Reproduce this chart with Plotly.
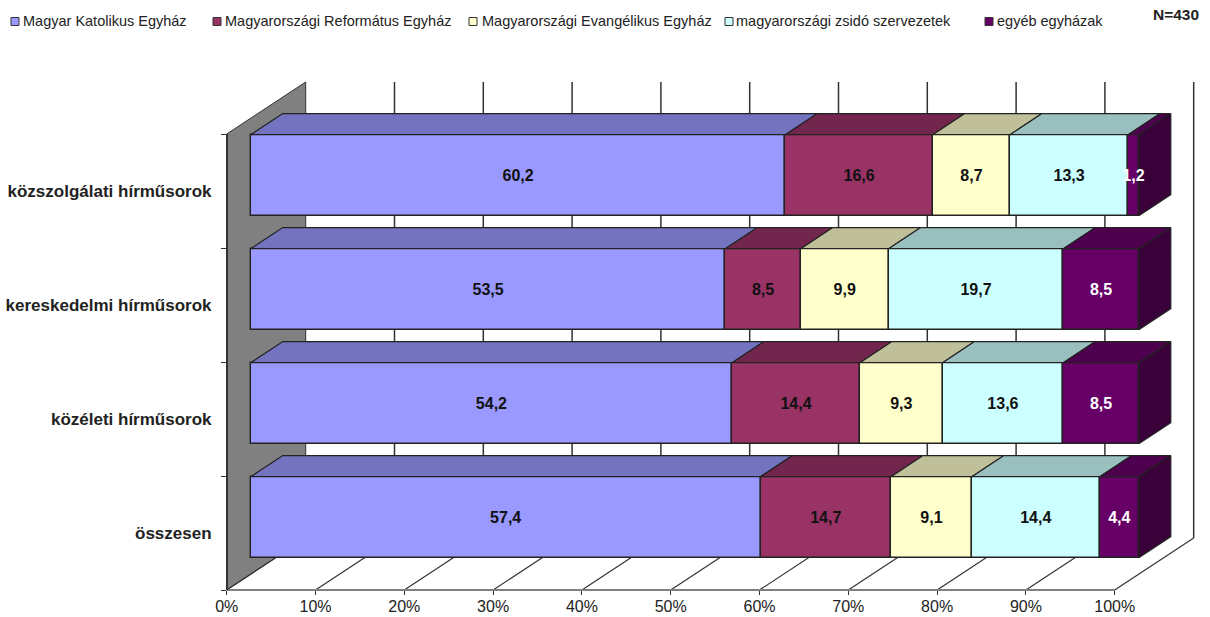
import plotly.graph_objects as go

# ---- data ----
categories = ["összesen", "közéleti hírműsorok", "kereskedelmi hírműsorok", "közszolgálati hírműsorok"]
series_names = ["Magyar Katolikus Egyház", "Magyarországi Református Egyház",
                "Magyarországi Evangélikus Egyház", "magyarországi zsidó szervezetek", "egyéb egyházak"]
katolikus = [57.4, 54.2, 53.5, 60.2]
reformatus = [14.7, 14.4, 8.5, 16.6]
evangelikus = [9.1, 9.3, 9.9, 8.7]
zsido = [14.4, 13.6, 19.7, 13.3]
egyeb = [4.4, 8.5, 8.5, 1.2]
x_ticks = [0, 10, 20, 30, 40, 50, 60, 70, 80, 90, 100]
x_tick_labels = ["0%", "10%", "20%", "30%", "40%", "50%", "60%", "70%", "80%", "90%", "100%"]
note = "N=430"

# ---- style ----
W, H = 1210, 617
front_cols = ["#9999FF", "#993366", "#FFFFCC", "#CCFFFF", "#660066"]
top_cols = ["#7373BF", "#73264D", "#BFBF99", "#99BFBF", "#4D004D"]
side_col = "#3A003A"
edge = "#222222"
label_cols = ["#111111", "#111111", "#111111", "#111111", "#FFFFFF"]
FONT = "Liberation Sans"

# pixel geometry of the floor axis and the pseudo-3D depth
X0, X100 = 226.7, 1114.7
Y0, Y4 = 590.0, 134.0
ux = (X100 - X0) / 100.0
uy = (Y0 - Y4) / 4.0
DX = 79.0 / ux      # full depth of the box in x units
DY = 52.0 / uy      # full depth of the box in y units
D_FRONT, D_BACK = 0.305, 0.71
BAR_H = 81.0 / uy

def px_y_up(p):
    return (H - p) / H

fig = go.Figure()
series = [katolikus, reformatus, evangelikus, zsido, egyeb]

# back wall, side wall, grid lines (below the traces)
shapes = []
shapes.append(dict(type="path", xref="x", yref="y", layer="below",
                   path=f"M 0 0 L 0 4 L {DX} {4 + DY} L {DX} {DY} Z",
                   fillcolor="#808080", line=dict(color="#333333", width=1)))
for t in x_ticks:
    if t > 0:
        shapes.append(dict(type="line", xref="x", yref="y", layer="below",
                           x0=t + DX, x1=t + DX, y0=DY, y1=4 + DY,
                           line=dict(color="#333333", width=1.5)))
    shapes.append(dict(type="line", xref="x", yref="y", layer="below",
                       x0=t, x1=t + DX, y0=0, y1=DY,
                       line=dict(color="#333333", width=1.2)))

# stacked faces
cum = [0.0] * len(categories)
totals = [sum(s[i] for s in series) for i in range(len(categories))]
sx0, sy0 = D_FRONT * DX, D_FRONT * DY
ddx, ddy = (D_BACK - D_FRONT) * DX, (D_BACK - D_FRONT) * DY
centers = [i + 0.5 + sy0 for i in range(len(categories))]
label_y = [c - 1.5 / uy for c in centers]
label_traces = []

for k, s in enumerate(series):
    widths = [v / totals[i] * 100 for i, v in enumerate(s)]
    fig.add_trace(go.Bar(
        orientation="h", y=centers, x=widths, base=[c + sx0 for c in cum], width=BAR_H,
        name=series_names[k], showlegend=False, hoverinfo="skip",
        marker=dict(color=front_cols[k], line=dict(color=edge, width=1.4)),
    ))
    label_traces.append(go.Scatter(
        x=[c + w / 2 + sx0 for c, w in zip(cum, widths)], y=label_y, mode="text",
        text=[f"{v:.1f}".replace(".", ",") for v in s], textposition="middle center",
        textfont=dict(family=FONT, size=16, color=label_cols[k], weight="bold"),
        showlegend=False, hoverinfo="skip"))
    # top faces
    for i in range(len(categories)):
        xa, xb = cum[i] + sx0, cum[i] + widths[i] + sx0
        yt = centers[i] + BAR_H / 2
        fig.add_trace(go.Scatter(
            x=[xa, xb, xb + ddx, xa + ddx, xa], y=[yt, yt, yt + ddy, yt + ddy, yt],
            mode="lines", fill="toself", fillcolor=top_cols[k],
            line=dict(color=edge, width=1.2), showlegend=False, hoverinfo="skip"))
    cum = [c + w for c, w in zip(cum, widths)]

# right side faces
for i in range(len(categories)):
    xr = cum[i] + sx0
    yt, yb = centers[i] + BAR_H / 2, centers[i] - BAR_H / 2
    fig.add_trace(go.Scatter(
        x=[xr, xr + ddx, xr + ddx, xr, xr], y=[yt, yt + ddy, yb + ddy, yb, yt],
        mode="lines", fill="toself", fillcolor=side_col,
        line=dict(color=edge, width=1.2), showlegend=False, hoverinfo="skip"))

for tr in label_traces:
    fig.add_trace(tr)

# invisible trace that brings the visible axes to life
fig.add_trace(go.Scatter(x=[0, 100], y=[0, 4], xaxis="x2", yaxis="y2", mode="lines",
                         line=dict(color="rgba(0,0,0,0)"), showlegend=False, hoverinfo="skip"))

# legend keys and text
legend_key_x = [11, 213, 469, 725, 985]
legend_text_x = [22, 224, 481, 735, 996]
annotations = []
for k, name in enumerate(series_names):
    shapes.append(dict(type="rect", xref="paper", yref="paper",
                       x0=legend_key_x[k] / W, x1=(legend_key_x[k] + 8) / W,
                       y0=px_y_up(25.5), y1=px_y_up(17.5),
                       fillcolor=front_cols[k], line=dict(color="#333333", width=1)))
    annotations.append(dict(xref="paper", yref="paper", x=legend_text_x[k] / W, y=px_y_up(21.5),
                            text=name, showarrow=False, xanchor="left", yanchor="middle",
                            xshift=-1, font=dict(family=FONT, size=14.5, color="#222222")))
annotations.append(dict(xref="paper", yref="paper", x=1151 / W, y=px_y_up(14), text=note,
                        showarrow=False, xanchor="left", yanchor="middle",
                        font=dict(family=FONT, size=15.5, color="#222222", weight="bold")))

fig.update_layout(
    width=W, height=H, margin=dict(l=0, r=0, t=0, b=0, pad=0, autoexpand=False),
    paper_bgcolor="white", plot_bgcolor="rgba(0,0,0,0)", barmode="overlay", bargap=0,
    showlegend=False, shapes=shapes, annotations=annotations,
    xaxis=dict(domain=[0, 1], range=[-X0 / ux, (W - X0) / ux], visible=False, fixedrange=True),
    yaxis=dict(domain=[0, 1], range=[-(H - Y0) / uy, Y0 / uy], visible=False, fixedrange=True),
    xaxis2=dict(domain=[X0 / W, X100 / W], range=[0, 100], anchor="free", position=px_y_up(Y0),
                tickmode="array", tickvals=x_ticks, ticktext=x_tick_labels, ticks="outside",
                ticklen=4, tickcolor="#333333", showgrid=False, zeroline=False,
                showline=True, linecolor="#808080", linewidth=2, fixedrange=True,
                ticklabelstandoff=-2,
                tickfont=dict(family=FONT, size=16, color="#222222"), tickangle=0),
    yaxis2=dict(domain=[px_y_up(Y0), px_y_up(Y4)], range=[0, 4], anchor="free", position=X0 / W,
                tickmode="array", tickvals=[i + 0.5 for i in range(len(categories))],
                ticktext=categories, ticks="", showgrid=False, zeroline=False,
                showline=True, linecolor="#333333", linewidth=1.5, fixedrange=True,
                ticklabelstandoff=11,
                minor=dict(tickmode="array", tickvals=list(range(len(categories) + 1)),
                           ticks="outside", ticklen=5, tickcolor="#333333"),
                tickfont=dict(family=FONT, size=17, color="#222222", weight="bold")),
)

fig.write_html("out.html", config={"displayModeBar": False},
               post_script="document.body.style.margin='0';document.documentElement.style.overflow='hidden';")
